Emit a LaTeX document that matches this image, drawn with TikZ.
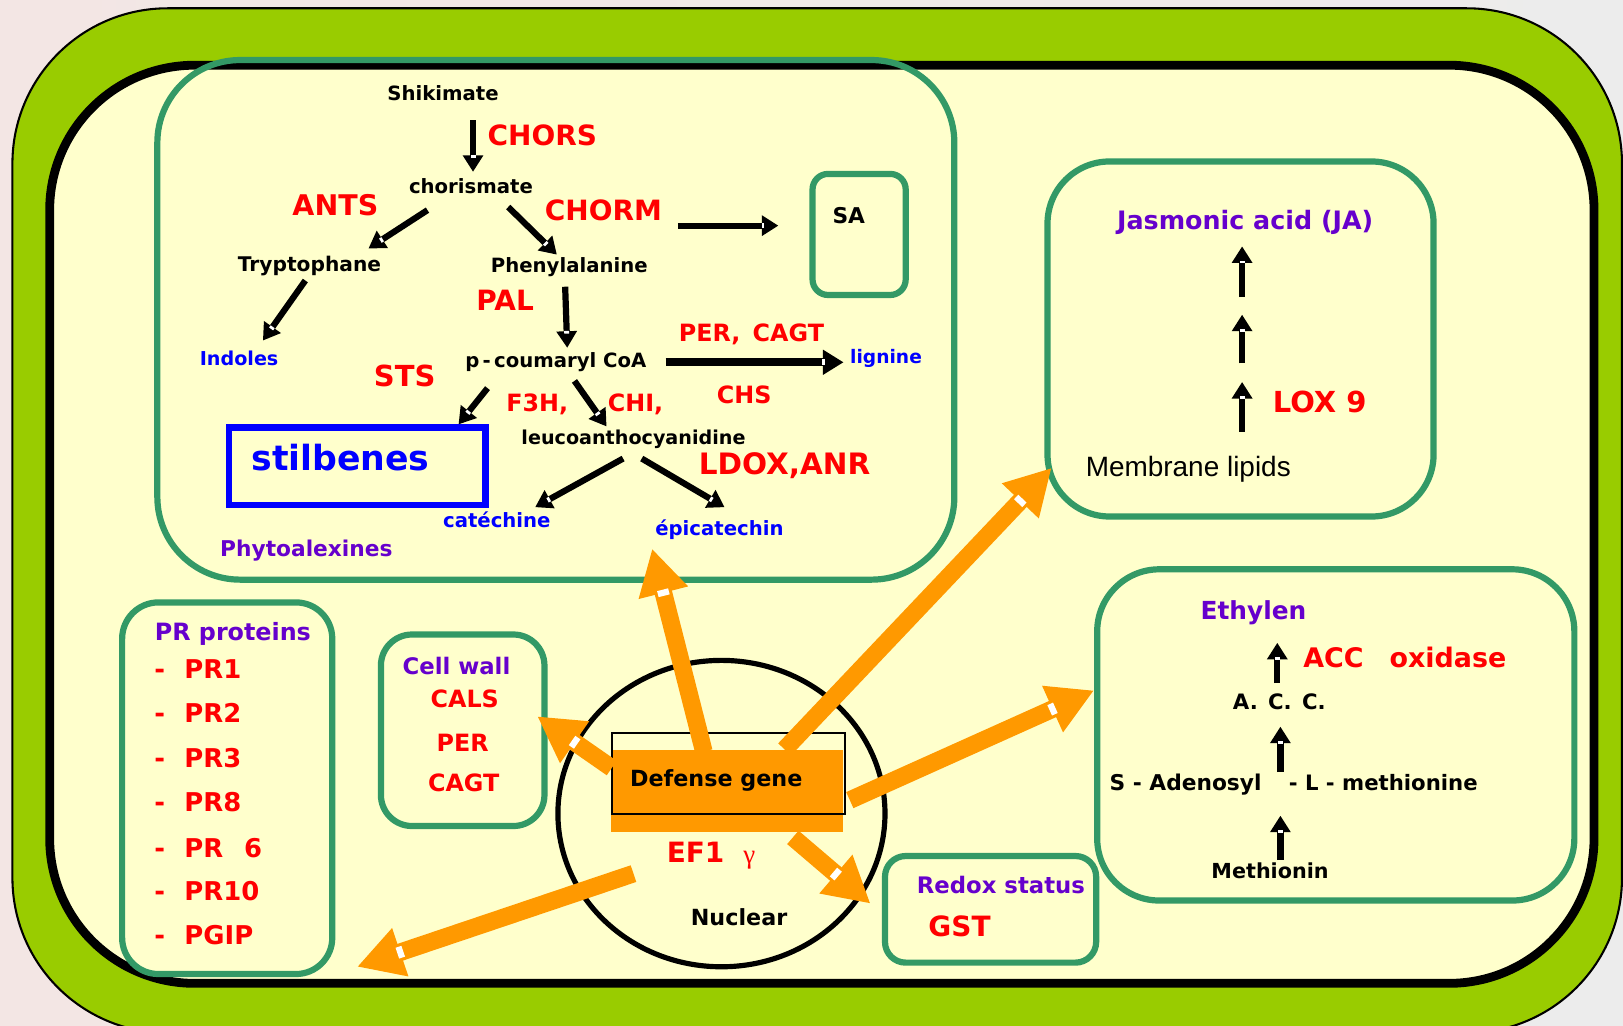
\documentclass[tikz,border=0pt]{standalone}
\usepackage{fontspec}
\setmainfont{DejaVu Sans}
\newfontfamily\arialf{Liberation Sans}
\newfontfamily\serf{Liberation Serif}
\usetikzlibrary{arrows.meta,decorations.markings}
\definecolor{cellgreen}{HTML}{99CC00}
\definecolor{cyto}{HTML}{FFFFCC}
\definecolor{teal2}{HTML}{339966}
\definecolor{orng}{HTML}{FF9900}
\definecolor{purp}{HTML}{6600CC}
\definecolor{bgl}{HTML}{F3E6E4}
\definecolor{bgr}{HTML}{ECECEC}
\tikzset{
  lab/.style={inner sep=0pt, text depth=0pt, font={\fontsize{#1}{#1}\selectfont\bfseries}},
  tbox/.style={draw=teal2, line width=6pt},
  barr/.style={line width=6pt, -{Triangle[width=19pt,length=16pt]},
    postaction={decorate, decoration={markings, mark=at position -15pt with {\fill[white] (-1.3pt,-2.4pt) rectangle (1.3pt,2.4pt);}}}},
  bbarr/.style={line width=8pt, -{Triangle[width=23pt,length=20pt]},
    postaction={decorate, decoration={markings, mark=at position -19pt with {\fill[white] (-1.5pt,-3pt) rectangle (1.5pt,3pt);}}}},
  oarr/.style={draw=orng, line width=17pt, -{Triangle[width=46pt,length=44pt]},
    postaction={decorate, decoration={markings, mark=at position -44pt with {\fill[white] (-3pt,-5.5pt) rectangle (3pt,5.5pt);}}}},
}
\begin{document}
\begin{tikzpicture}[x=1pt,y=-1pt]
\useasboundingbox (0,0) rectangle (1568,991);
\shade[left color=bgl,right color=bgr] (0,0) rectangle (1568,991);
% cell wall and cytoplasm
\draw[line width=2pt, fill=cellgreen, rounded corners=150pt] (12,8) rectangle (1567,998);
\draw[line width=8.5pt, fill=cyto, rounded corners=140pt] (48,63) rectangle (1540,950);
% boxes
\draw[tbox, rounded corners=80pt] (152,58) rectangle (922,560);
\draw[tbox, rounded corners=15pt] (785,168) rectangle (875,285);
\draw[tbox, rounded corners=60pt] (1012,156) rectangle (1385,499);
\draw[tbox, fill=cyto, rounded corners=60pt] (1060,550) rectangle (1521,870);
\draw[tbox, fill=cyto, rounded corners=35pt] (118,582) rectangle (321,941);
\draw[tbox, fill=cyto, rounded corners=30pt] (368,613) rectangle (526,798);
\draw[tbox, fill=cyto, rounded corners=20pt] (855,827) rectangle (1059,930);
\draw[blue, line width=6pt] (221,413) rectangle (469,488);
% pathway texts
\node[lab=19] (shik) at (428,90) {Shikimate};
\node[lab=27,text=red] (chors) at (524,131) {CHORS};
\node[lab=19] (chor) at (455,180) {chorismate};
\node[lab=27.5,text=red] (ants) at (324,198) {ANTS};
\node[lab=27,text=red] (chorm) at (583,203) {CHORM};
\node[lab=19.5] (tryp) at (299,255) {Tryptophane};
\node[lab=19] (phe) at (550,256) {Phenylalanine};
\node[lab=27,text=red] (pal) at (488,290) {PAL};
\node[lab=18.5,text=blue] (ind) at (231,346) {Indoles};
\node[lab=28,text=red] (sts) at (391,363) {STS};
\node[lab=19] (pcoum) at (537,348) {p\,-\,coumaryl CoA};
\node[lab=23,text=red] (percagt) at (726,321) {PER,\, CAGT};
\node[lab=18,text=blue] (lig) at (856,344) {lignine};
\node[lab=23,text=red] (f3h) at (519,389) {F3H,};
\node[lab=23,text=red] (chi) at (614,389) {CHI,};
\node[lab=23,text=red] (chs) at (719,381) {CHS};
\node[lab=18.5] (leuco) at (612,422) {leucoanthocyanidine};
\node[lab=33.5,text=blue] (stil) at (329,442) {stilbenes};
\node[lab=28.5,text=red] (ldox) at (758,448) {LDOX,ANR};
\node[lab=19,text=blue] (cat) at (480,502) {catéchine};
\node[lab=19,text=blue] (epi) at (695,510) {épicatechin};
\node[lab=21,text=purp] (phyto) at (296,530) {Phytoalexines};
\node[lab=21] (sa) at (820,208) {SA};
% JA
\node[lab=24.5,text=purp] (ja) at (1203,212) {Jasmonic acid (JA)};
\node[lab=28,text=red] (lox) at (1275,388) {LOX 9};
\node[inner sep=0pt, text depth=0pt, font={\fontsize{27}{27}\selectfont\arialf}] (memb) at (1148,451) {Membrane lipids};
% Ethylen
\node[lab=24,text=purp] (eth) at (1211,589) {Ethylen};
\node[lab=26,text=red,anchor=west] (acc) at (1259,635) {ACC\hspace{25pt}oxidase};
\node[lab=20.5] (accc) at (1236,678) {A.\hspace{10pt}C.\hspace{10pt}C.};
\node[lab=21,anchor=east] (sam1) at (1219,756) {S - Adenosyl};
\node[lab=20.5,anchor=west] (sam2) at (1245,756) {- L - methionine};
\node[lab=20] (meth) at (1227,841) {Methionin};
% PR proteins
\node[lab=23,text=purp] (prt) at (225,610) {PR proteins};
\foreach \t/\yy/\n in {PR1/646/p1,PR2/689/p2,PR3/732/p3,PR8/775/p4,PR\hspace{20pt}6/819/p5,PR10/861/p6,PGIP/903/p7}{
  \node[lab=25,text=red,anchor=west] (\n) at (149,\yy) {\makebox[29pt][l]{-}\t};
}
% Cell wall
\node[lab=22,text=purp] (cw) at (441,643) {Cell wall};
\node[lab=23,text=red] (cals) at (449,675) {CALS};
\node[lab=23,text=red] (per2) at (447,718) {PER};
\node[lab=23,text=red] (cagt2) at (448,756) {CAGT};
% Redox
\node[lab=22,text=purp] (redox) at (967,855) {Redox status};
\node[lab=27,text=red] (gst) at (927,895) {GST};
% black arrows
\coordinate (a1s) at (457,116); \coordinate (a1e) at (457,166);
\coordinate (a2s) at (413,203); \coordinate (a2e) at (356,240);
\coordinate (a3s) at (491,200); \coordinate (a3e) at (538,246);
\coordinate (a4s) at (295,271); \coordinate (a4e) at (254,329);
\coordinate (a5s) at (546,277); \coordinate (a5e) at (548,336);
\coordinate (a6s) at (643,350); \coordinate (a6e) at (815,350);
\coordinate (a7s) at (655,218); \coordinate (a7e) at (752,218);
\coordinate (a8s) at (471,375); \coordinate (a8e) at (443,410);
\coordinate (a9s) at (555,368); \coordinate (a9e) at (586,412);
\coordinate (a10s) at (602,443); \coordinate (a10e) at (517,490);
\coordinate (a11s) at (620,443); \coordinate (a11e) at (700,490);
\foreach \i in {1,2,3,4,5,8,9,10,11} { \draw[barr] (a\i s) -- (a\i e); }
\draw[bbarr] (a6s) -- (a6e);
\draw[barr] (a7s) -- (a7e);
\coordinate (j1s) at (1200,287); \coordinate (j1e) at (1200,238);
\coordinate (j2s) at (1200,351); \coordinate (j2e) at (1200,304);
\coordinate (j3s) at (1200,417); \coordinate (j3e) at (1200,369);
\coordinate (e1s) at (1234,660); \coordinate (e1e) at (1234,621);
\coordinate (e2s) at (1237,746); \coordinate (e2e) at (1237,702);
\coordinate (e3s) at (1237,831); \coordinate (e3e) at (1237,788);
\foreach \c in {j1,j2,j3,e1,e2,e3} { \draw[barr] (\c s) -- (\c e); }
% nucleus
\draw[line width=5pt] (697,786) ellipse [x radius=158, y radius=148];
\fill[orng] (590,725) rectangle (814,804);
\node[draw=black, line width=1.8pt, minimum width=225pt, minimum height=78pt, inner sep=0pt] (dgbox) at (703.5,747) {};
% orange arrows
\coordinate (o1s) at (680,726); \coordinate (o1e) at (630,530);
\coordinate (o2s) at (758,724); \coordinate (o2e) at (1016,452);
\coordinate (o3s) at (591,742); \coordinate (o3e) at (519,692);
\coordinate (o4s) at (821,773); \coordinate (o4e) at (1057,667);
\coordinate (o5s) at (766,809); \coordinate (o5e) at (841,873);
\coordinate (o6s) at (612,844); \coordinate (o6e) at (345,934);
\foreach \i in {1,...,6} { \draw[oarr] (o\i s) -- (o\i e); }
\node[lab=21.5] (dg) at (692,752) {Defense gene};
\node[lab=27,text=red] (ef) at (672,823) {EF1};
\node[inner sep=0pt, text=red, font={\fontsize{26}{26}\selectfont\serf}] (gam) at (724,831) {γ};
\node[lab=21.5] (nuc) at (714,886) {Nuclear};
\end{tikzpicture}
\end{document}
